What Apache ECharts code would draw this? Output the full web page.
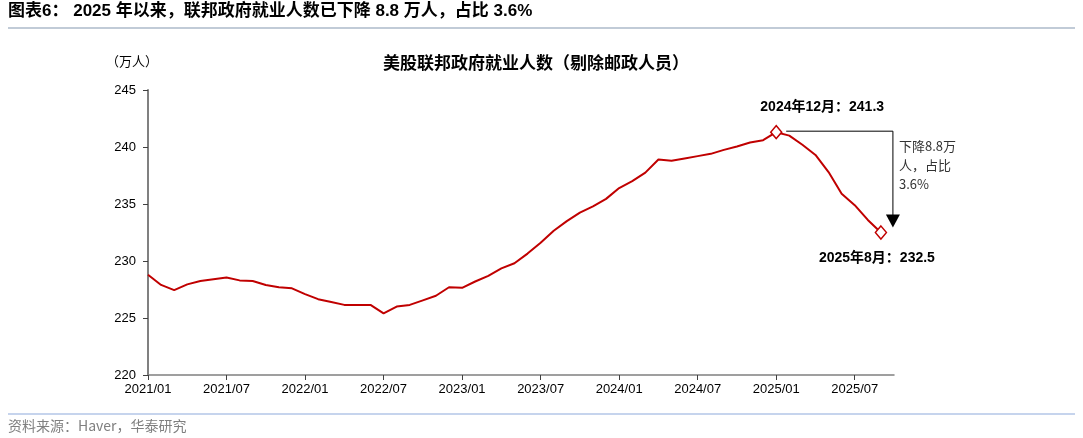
<!DOCTYPE html>
<html><head><meta charset="utf-8">
<script src="https://cdn.jsdelivr.net/npm/echarts@6/dist/echarts.min.js"></script>
<style>html,body{margin:0;padding:0;background:#fff}#c{width:1083px;height:438px}</style>
</head><body><div id="c"></div>
<script>
var months = [];
for (var y = 2021; y <= 2025; y++) { for (var m = 1; m <= 12; m++) { if (y === 2025 && m > 10) break; months.push(y + '/' + (m < 10 ? '0' + m : m)); } }
var employment = [
 228.8,227.9,227.45,227.95,228.25,228.4,228.55,228.3,228.25,227.9,227.7,227.6,
 227.1,226.65,226.4,226.15,226.15,226.15,225.4,226.0,226.15,226.55,226.95,227.7,
 227.65,228.2,228.7,229.35,229.8,230.65,231.6,232.65,233.5,234.25,234.8,235.45,
 236.4,237.0,237.75,238.9,238.8,239.0,239.2,239.4,239.75,240.05,240.4,240.6,
 241.3,241.0,240.2,239.3,237.8,235.9,234.9,233.6,232.5
];
var yTicks = {min: 220, max: 245, interval: 5};
var peakIdx = 48, endIdx = 56;
var peakLabel = '2024年12月：241.3';
var endLabel = '2025年8月：232.5';
var dropText = '下降8.8万\n人，占比\n3.6%';
var mainTitle = '图表6： 2025 年以来，联邦政府就业人数已下降 8.8 万人，占比 3.6%';
var chartTitle = '美股联邦政府就业人数（剔除邮政人员）';
var unitText = '（万人）';
var sourceText = '资料来源：Haver，华泰研究';

var FONT = '"Liberation Sans", Arial, "Noto Sans CJK SC", sans-serif';
var CJK = '"Noto Sans CJK SC", sans-serif';
var chart = echarts.init(document.getElementById('c'), null, {renderer: 'canvas'});
var red = '#C00000';
function statics() {
  return [
    {type: 'text', left: 8, top: 3, style: {text: mainTitle, font: 'bold 17px ' + FONT, fill: '#000'}},
    {type: 'line', shape: {x1: 8, y1: 28, x2: 1075, y2: 28}, style: {stroke: '#8497b0', lineWidth: 1.2}},
    {type: 'text', left: 106, top: 55, style: {text: unitText, font: '13px ' + CJK, fill: '#000'}},
    {type: 'text', x: 536, y: 63, style: {text: chartTitle, font: 'bold 17px ' + CJK, fill: '#000', align: 'center', verticalAlign: 'middle'}},
    {type: 'line', shape: {x1: 8, y1: 414, x2: 1075, y2: 414}, style: {stroke: '#8eaadb', lineWidth: 1.2}},
    {type: 'text', left: 8, top: 419, style: {text: sourceText, font: '14px ' + CJK, fill: '#7f7f7f'}}
  ];
}
chart.setOption({
  animation: false,
  backgroundColor: '#fff',
  grid: {left: 148, right: 189, top: 90, bottom: 63, containLabel: false},
  xAxis: {
    type: 'category', data: months, boundaryGap: false,
    axisLine: {lineStyle: {color: '#808080', width: 1.5}},
    axisTick: {interval: 5, length: 5, lineStyle: {color: '#404040'}},
    axisLabel: {interval: 5, color: '#000', fontSize: 13, fontFamily: FONT, margin: 8},
    splitLine: {show: false}
  },
  yAxis: {
    type: 'value', min: yTicks.min, max: yTicks.max, interval: yTicks.interval,
    axisLine: {show: true, lineStyle: {color: '#808080', width: 2}},
    axisTick: {show: true, length: 5, lineStyle: {color: '#404040'}},
    axisLabel: {color: '#000', fontSize: 13, fontFamily: FONT, margin: 12},
    splitLine: {show: false}
  },
  series: [{
    type: 'line', data: employment, showSymbol: false, symbol: 'none',
    lineStyle: {color: red, width: 2}, z: 3,
    markPoint: {
      symbol: 'diamond', symbolSize: [11, 13],
      itemStyle: {color: '#fff', borderColor: red, borderWidth: 1.5},
      data: [
        {coord: [peakIdx, employment[peakIdx]], label: {show: true, formatter: peakLabel, position: 'top', offset: [46, -6], color: '#000', fontWeight: 'bold', fontSize: 14, fontFamily: FONT}},
        {coord: [endIdx, employment[endIdx]], label: {show: true, formatter: endLabel, position: 'bottom', offset: [-4, 6], color: '#000', fontWeight: 'bold', fontSize: 14, fontFamily: FONT}}
      ]
    }
  }],
  graphic: statics()
});

var pk = chart.convertToPixel({gridIndex: 0}, [peakIdx, employment[peakIdx]]);
var en = chart.convertToPixel({gridIndex: 0}, [endIdx, employment[endIdx]]);
var xr = en[0] + 12;
chart.setOption({
  graphic: statics().concat([
    {type: 'polyline', shape: {points: [[pk[0] + 10, pk[1] - 1], [xr, pk[1] - 1], [xr, en[1] - 17]]}, style: {stroke: '#000', lineWidth: 1, fill: null}, z: 10},
    {type: 'polygon', shape: {points: [[xr - 7, en[1] - 18], [xr + 7, en[1] - 18], [xr, en[1] - 5]]}, style: {fill: '#000'}, z: 10},
    {type: 'text', x: xr + 6, y: pk[1] + 4, style: {text: dropText, font: '13px ' + CJK, fill: '#333', lineHeight: 19}, z: 10}
  ])
}, {replaceMerge: ['graphic']});
</script></body></html>
